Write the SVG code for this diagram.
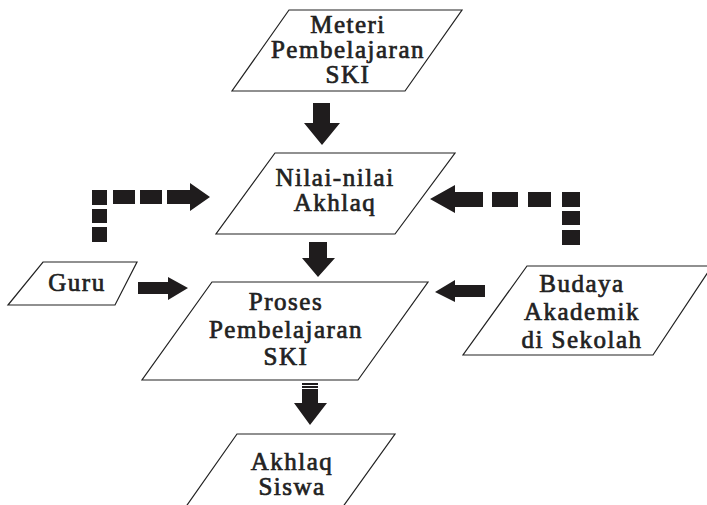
<svg xmlns="http://www.w3.org/2000/svg" width="707" height="505" viewBox="0 0 707 505">
<style>
.box{fill:#fff;stroke:#222;stroke-width:1.2}
.t{font-family:"Liberation Serif","Times New Roman",serif;font-weight:normal;font-size:25px;fill:#222;stroke:#222;stroke-width:0.7;text-anchor:middle;letter-spacing:1.5px}
.a{fill:#1f1c1d}
</style>
<rect width="707" height="505" fill="#fff"/>
<g id="meteri">
<polygon class="box" points="289,10 462,10 405,91 232,91"/>
<text class="t" x="348" y="33">Meteri</text>
<text class="t" x="348" y="58">Pembelajaran</text>
<text class="t" x="348" y="83">SKI</text>
</g>
<g id="nilai">
<polygon class="box" points="275,153 455,153 395,234 216,234"/>
<text class="t" x="335" y="186">Nilai-nilai</text>
<text class="t" x="335" y="211">Akhlaq</text>
</g>
<g id="guru">
<polygon class="box" points="43,262 137,262 115,305 8,305"/>
<text class="t" x="77" y="291">Guru</text>
</g>
<g id="proses">
<polygon class="box" points="212,282 428,282 358,380 142,380"/>
<text class="t" x="286" y="310">Proses</text>
<text class="t" x="286" y="338">Pembelajaran</text>
<text class="t" x="286" y="365">SKI</text>
</g>
<g id="budaya">
<polygon class="box" points="527,266 712,266 653,355 463,355"/>
<text class="t" x="582" y="292">Budaya</text>
<text class="t" x="582" y="320">Akademik</text>
<text class="t" x="582" y="348">di Sekolah</text>
</g>
<g id="akhlaq">
<polygon class="box" points="237,434 395,434 342,508 185,508"/>
<text class="t" x="292" y="470">Akhlaq</text>
<text class="t" x="292" y="495">Siswa</text>
</g>
<g id="connectors">
<polygon class="a" points="313,103 330,103 330,123 340,123 322,145 304,123 313,123"/>
<polygon class="a" points="309,242 327,242 327,258 335,258 318,277 302,258 309,258"/>
<polygon class="a" points="302,383 318,383 318,403 327,403 310,425 294,403 302,403"/>
<rect x="302" y="385" width="16" height="1" fill="#fff"/>
<rect x="302" y="388" width="16" height="1" fill="#fff"/>
<polygon class="a" points="138,282 168,282 168,277 188,288 168,300 168,294 138,294"/>
<polygon class="a" points="485,285 455,285 455,280 435,292 455,302 455,297 485,297"/>
<rect class="a" x="92" y="190" width="15" height="15"/>
<rect class="a" x="92" y="209" width="15" height="14"/>
<rect class="a" x="92" y="227" width="15" height="15"/>
<rect class="a" x="113" y="190" width="22" height="14"/>
<rect class="a" x="140" y="190" width="22" height="14"/>
<polygon class="a" points="167,190 190,190 190,183 210,197 190,211 190,204 167,204"/>
<polygon class="a" points="483,192 455,192 455,185 430,199 455,213 455,207 483,207"/>
<rect class="a" x="492" y="192" width="26" height="15"/>
<rect class="a" x="528" y="192" width="23" height="15"/>
<rect class="a" x="562" y="192" width="18" height="15"/>
<rect class="a" x="562" y="211" width="18" height="14"/>
<rect class="a" x="562" y="230" width="18" height="15"/>
</g>
</svg>
